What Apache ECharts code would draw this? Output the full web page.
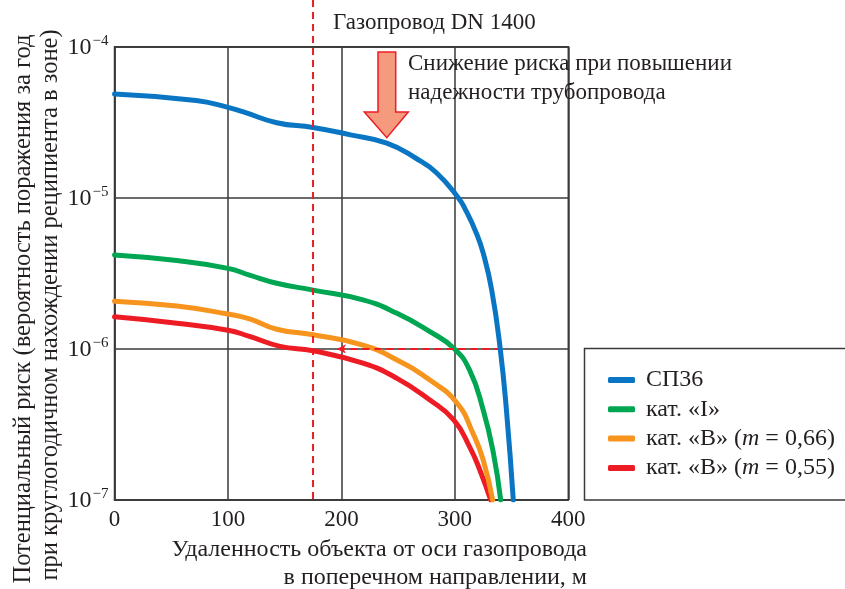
<!DOCTYPE html>
<html>
<head>
<meta charset="utf-8">
<script src="https://cdn.jsdelivr.net/npm/echarts@6/dist/echarts.min.js"></script>
<style>
html,body{margin:0;padding:0;background:#fff;}
#chart{width:845px;height:589px;}
</style>
</head>
<body>
<div id="chart"></div>
<script>
// ---- data ----
const seriesNames = ['СП36', 'кат. «I»', 'кат. «В» (m = 0,66)', 'кат. «В» (m = 0,55)'];
const xTicks = [0, 100, 200, 300, 400];
const yTicks = [1e-7, 1e-6, 1e-5, 1e-4];

const sp36Dist = [0, 72, 100, 113, 143, 175, 208, 240, 266, 284, 303, 309.5, 319, 325, 332.5, 340, 345.7, 351.5];
const sp36Risk = [4.86e-5, 4.40e-5, 3.97e-5, 3.72e-5, 3.14e-5, 2.92e-5, 2.61e-5, 2.30e-5, 1.82e-5, 1.46e-5, 1.0e-5, 8.3e-6, 5.82e-6, 4.3e-6, 2.45e-6, 1.0e-6, 3.75e-7, 1e-7];

const catIDist = [0, 55, 100, 119, 143, 175, 219, 249, 278, 299, 313, 325, 334, 340.4];
const catIRisk = [4.18e-6, 3.84e-6, 3.41e-6, 3.08e-6, 2.72e-6, 2.45e-6, 2.11e-6, 1.72e-6, 1.30e-6, 1.01e-6, 7.24e-7, 3.94e-7, 2.04e-7, 1e-7];

const catB66Dist = [0, 55, 100, 119, 143, 175, 219, 249, 278, 302, 316, 325, 333.3];
const catB66Risk = [2.07e-6, 1.92e-6, 1.70e-6, 1.58e-6, 1.35e-6, 1.24e-6, 1.06e-6, 8.45e-7, 6.22e-7, 4.37e-7, 2.76e-7, 1.84e-7, 1e-7];

const catB55Dist = [0, 55, 100, 119, 146, 175, 219, 249, 278, 299, 313, 322, 331.6];
const catB55Risk = [1.63e-6, 1.48e-6, 1.33e-6, 1.21e-6, 1.04e-6, 9.72e-7, 8.04e-7, 6.38e-7, 4.59e-7, 3.39e-7, 2.25e-7, 1.58e-7, 1e-7];

const pipelineDist = 175;          // vertical reference line
const limitRisk = 1e-6;            // horizontal reference level
const limitFrom = 341, limitTo = 196;

const colors = ['#0a75c2', '#00a651', '#f7941d', '#ed1c24'];
// ---------------

const FONT = '"Liberation Serif", "Times New Roman", serif';
const TXT = '#231f20';
const GRIDC = '#3a3a3a';

function pairs(xs, ys) { return xs.map((x, i) => [x, ys[i]]); }

const chart = echarts.init(document.getElementById('chart'));

const data = [pairs(sp36Dist, sp36Risk), pairs(catIDist, catIRisk), pairs(catB66Dist, catB66Risk), pairs(catB55Dist, catB55Risk)];

const series = seriesNames.map((n, i) => ({
  name: n,
  type: 'line',
  data: data[i],
  smooth: 0.5,
  showSymbol: false,
  symbol: 'none',
  z: 5 - i,
  lineStyle: { color: colors[i], width: 5, cap: 'round', join: 'round' },
  itemStyle: { color: colors[i] }
}));

series.push({
  name: 'ref',
  type: 'line',
  data: [],
  z: 20,
  markLine: {
    silent: true,
    symbol: ['none', 'arrow'],
    symbolSize: [7, 9],
    label: { show: false },
    lineStyle: { color: '#ed1c24', width: 2, type: [7, 5] },
    data: [[{ coord: [limitFrom, limitRisk] }, { coord: [limitTo, limitRisk] }]]
  }
});

function legendFmt(name) {
  const m = name.match(/^(.*\()m( = .*)$/);
  if (m) return '{a|' + m[1] + '}{i|m}{a|' + m[2] + '}';
  return '{a|' + name + '}';
}

const option = {
  animation: false,
  backgroundColor: '#fff',
  textStyle: { fontFamily: FONT },
  grid: { left: 114.5, top: 46.7, right: 276.7, bottom: 89, show: true, borderColor: GRIDC, borderWidth: 1.5, containLabel: false },
  xAxis: {
    type: 'value', min: xTicks[0], max: xTicks[xTicks.length - 1], interval: 100,
    axisLine: { show: true, lineStyle: { color: GRIDC, width: 1.5 } },
    axisTick: { show: false },
    splitLine: { show: true, lineStyle: { color: GRIDC, width: 1.5 } },
    axisLabel: { color: TXT, fontFamily: FONT, fontSize: 23, margin: 8 }
  },
  yAxis: {
    type: 'log', logBase: 10, min: yTicks[0], max: yTicks[yTicks.length - 1],
    axisLine: { show: true, lineStyle: { color: GRIDC, width: 1.5 } },
    axisTick: { show: false },
    minorTick: { show: false },
    splitLine: { show: true, lineStyle: { color: GRIDC, width: 1.5 } },
    axisLabel: {
      margin: 6,
      formatter: v => '{b|10}{s|−' + Math.round(-Math.log10(v)) + '}',
      rich: {
        b: { fontFamily: FONT, fontSize: 24, color: TXT, verticalAlign: 'bottom', lineHeight: 24 },
        s: { fontFamily: FONT, fontSize: 15, color: TXT, verticalAlign: 'bottom', padding: [0, 0, 11, 1] }
      }
    }
  },
  legend: {
    data: seriesNames,
    orient: 'vertical',
    left: 608, top: 368,
    padding: 0,
    itemWidth: 27, itemHeight: 6, itemGap: 5.3,
    icon: 'roundRect',
    selectedMode: false,
    formatter: legendFmt,
    textStyle: {
      color: TXT, fontFamily: FONT, fontSize: 24,
      padding: [0, 0, 0, 6],
      rich: {
        a: { fontFamily: FONT, fontSize: 24, color: TXT, lineHeight: 24 },
        i: { fontFamily: FONT, fontSize: 24, color: TXT, fontStyle: 'italic', lineHeight: 24 }
      }
    }
  },
  series: series
};

chart.setOption(option);

const px = chart.convertToPixel({ xAxisIndex: 0 }, pipelineDist);
const yBottom = chart.convertToPixel({ yAxisIndex: 0 }, yTicks[0]);

chart.setOption({
  graphic: [
    { type: 'line', z: 30, silent: true,
      shape: { x1: px, y1: 0, x2: px, y2: yBottom },
      style: { stroke: '#ed1c24', lineWidth: 2, lineDash: [7, 5] } },
    { type: 'rect', z: 1, silent: true,
      shape: { x: 584.5, y: 348.5, width: 270, height: 151.5 },
      style: { fill: 'none', stroke: GRIDC, lineWidth: 1.5 } },
    { type: 'polygon', z: 30, silent: true,
      shape: { points: [[378, 52], [395.7, 52], [395.7, 112], [408.3, 112], [386.8, 137.7], [364.3, 112], [378, 112]] },
      style: { fill: '#f59a7c', stroke: '#ed1c24', lineWidth: 1.5 } },
    { type: 'text', z: 30, silent: true, x: 333, y: 23,
      style: { text: 'Газопровод DN 1400', font: '23px ' + FONT, fill: TXT, textVerticalAlign: 'middle' } },
    { type: 'text', z: 30, silent: true, x: 408, y: 64,
      style: { text: 'Снижение риска при повышении', font: '23px ' + FONT, fill: TXT, textVerticalAlign: 'middle' } },
    { type: 'text', z: 30, silent: true, x: 408, y: 93,
      style: { text: 'надежности трубопровода', font: '23px ' + FONT, fill: TXT, textVerticalAlign: 'middle' } },
    { type: 'text', z: 30, silent: true, x: 587, y: 550,
      style: { text: 'Удаленность объекта от оси газопровода', font: '24px ' + FONT, fill: TXT, textAlign: 'right', textVerticalAlign: 'middle' } },
    { type: 'text', z: 30, silent: true, x: 587, y: 578,
      style: { text: 'в поперечном направлении, м', font: '24px ' + FONT, fill: TXT, textAlign: 'right', textVerticalAlign: 'middle' } },
    { type: 'text', z: 30, silent: true, x: 24, y: 309, rotation: Math.PI / 2,
      style: { text: 'Потенциальный риск (вероятность поражения за год', font: '24.5px ' + FONT, fill: TXT, textAlign: 'center', textVerticalAlign: 'middle' } },
    { type: 'text', z: 30, silent: true, x: 51, y: 305, rotation: Math.PI / 2,
      style: { text: 'при круглогодичном нахождении реципиента в зоне)', font: '24.5px ' + FONT, fill: TXT, textAlign: 'center', textVerticalAlign: 'middle' } }
  ]
});
</script>
</body>
</html>
